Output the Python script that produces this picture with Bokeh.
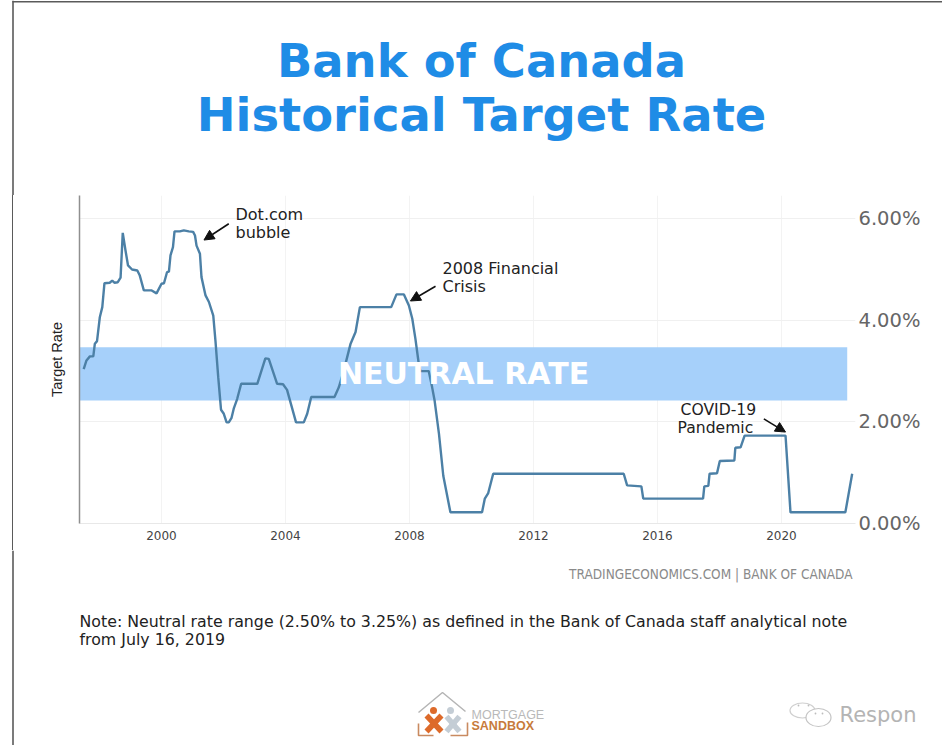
from bokeh.plotting import figure
from bokeh.embed import file_html
from bokeh.resources import INLINE
from bokeh.layouts import column, row
from bokeh.core.properties import value
from bokeh.models import Label, Arrow, NormalHead, FixedTicker, Range1d, LinearAxis, Div

years = [1997.49,1997.58,1997.69,1997.80,1997.85,1997.92,1998.01,1998.09,1998.16,1998.33,1998.41,1998.48,1998.59,1998.68,1998.75,1998.84,1998.92,1999.05,1999.22,1999.30,1999.43,1999.67,1999.84,2000.00,2000.08,2000.18,2000.24,2000.29,2000.37,2000.42,2000.59,2000.72,2000.88,2001.02,2001.08,2001.13,2001.24,2001.29,2001.42,2001.53,2001.67,2001.74,2001.83,2001.92,2002.01,2002.10,2002.17,2002.26,2002.33,2002.44,2002.57,2003.09,2003.35,2003.46,2003.73,2003.92,2004.05,2004.34,2004.59,2004.70,2004.83,2005.58,2005.72,2005.88,2006.10,2006.26,2006.40,2007.41,2007.58,2007.82,2007.98,2008.09,2008.19,2008.30,2008.35,2008.62,2008.73,2008.81,2008.95,2009.09,2009.32,2010.34,2010.43,2010.54,2010.70,2014.91,2015.02,2015.48,2015.54,2017.47,2017.51,2017.64,2017.68,2017.92,2018.01,2018.48,2018.51,2018.68,2018.81,2020.13,2020.29,2022.06,2022.28]
rates = [3.04,3.21,3.29,3.29,3.54,3.59,4.06,4.26,4.73,4.74,4.78,4.74,4.75,4.84,5.72,5.37,5.08,5.00,4.98,4.88,4.59,4.59,4.53,4.72,4.73,4.95,4.96,5.28,5.44,5.75,5.75,5.77,5.75,5.74,5.67,5.47,5.31,4.85,4.49,4.36,4.09,3.60,2.88,2.24,2.16,1.99,1.99,2.08,2.26,2.45,2.75,2.75,3.25,3.24,2.75,2.74,2.63,1.99,1.99,2.16,2.49,2.49,2.68,3.01,3.54,3.77,4.26,4.26,4.51,4.51,4.29,4.03,3.64,3.14,3.00,3.00,2.68,2.42,1.77,0.94,0.22,0.22,0.49,0.60,0.98,0.98,0.75,0.73,0.49,0.49,0.73,0.74,0.98,0.99,1.23,1.24,1.49,1.50,1.73,1.73,0.22,0.22,0.98]
year_ticks = [2000,2004,2008,2012,2016,2020]
rate_ticks = [0,2,4,6]
rate_labels = {0:"0.00%",2:"2.00%",4:"4.00%",6:"6.00%"}
band_low, band_high = 2.42, 3.47
band_end = 2022.12

FRAME = "#5a5a5a"

def X(px): return 2000 + (px - 161) / 31
def Y(py): return (523 - py) / 50.8

# ---- pixel-scaled strips around the chart
def strip(w, x0, y0, y1):
    f = figure(width=w, height=y1 - y0, output_backend="svg", toolbar_location=None,
               x_range=Range1d(x0, x0 + w), y_range=Range1d(y1, y0),
               x_axis_type=None, y_axis_type=None,
               min_border=0, min_border_left=0, min_border_right=0, min_border_top=0, min_border_bottom=0)
    f.outline_line_color = None
    f.grid.visible = False
    f.segment([12.5], [y0], [12.5], [y1], line_color=FRAME, line_width=1.6)
    return f

def put(f, txt, x, y, size, color="#222222", font="DejaVu Sans", style="normal", align="left"):
    f.text([x], [y], text=[txt], text_font=value(font), text_font_size=f"{size}px", text_color=color,
           text_font_style=style, text_align=align, text_baseline="middle")

top = strip(942, 0, 0, 195)
top.segment([12], [1.2], [942], [1.2], line_color=FRAME, line_width=1.6)
put(top, "Bank of Canada", 481, 60, 46.4, "#1F8CE6", "DejaVu Sans", "bold", "center")
put(top, "Historical Target Rate", 481, 114, 46.4, "#1F8CE6", "DejaVu Sans", "bold", "center")

left = Div(text="", width=30, height=355, margin=0,
           styles={"background": f"linear-gradient(to right, transparent 11.7px, {FRAME} 11.7px, {FRAME} 13.3px, transparent 13.3px)"})

# ---- chart
p = figure(width=912, height=355, output_backend="svg", toolbar_location=None,
           x_range=Range1d(X(79), X(855)), y_range=Range1d(Y(523), Y(195)),
           min_border_left=49, min_border_right=87, min_border_top=0, min_border_bottom=27)
p.outline_line_color = None

xa = p.xaxis[0]
xa.ticker = FixedTicker(ticks=year_ticks)
xa.axis_line_color = "#e8e8e8"
xa.major_tick_line_color = None
xa.minor_tick_line_color = None
xa.major_tick_out = 0
xa.major_label_text_font = "DejaVu Sans"
xa.major_label_text_font_size = "12px"
xa.major_label_text_color = "#444444"
xa.major_label_standoff = 7

ya = p.yaxis[0]
ya.ticker = FixedTicker(ticks=[])
ya.axis_line_color = "#8f8f8f"
ya.axis_line_width = 1.5
ya.major_tick_line_color = None
ya.minor_tick_line_color = None
ya.major_tick_out = 0
ya.axis_label = "Target Rate"
ya.axis_label_text_font = "Liberation Sans"
ya.axis_label_text_font_size = "14.5px"
ya.axis_label_text_font_style = "normal"
ya.axis_label_text_color = "#222222"
ya.axis_label_standoff = 15

ra = LinearAxis(ticker=FixedTicker(ticks=rate_ticks), major_label_overrides=rate_labels)
ra.axis_line_color = None
ra.major_tick_line_color = None
ra.minor_tick_line_color = None
ra.major_tick_out = 0
ra.major_label_text_font = "DejaVu Sans"
ra.major_label_text_font_size = "19.5px"
ra.major_label_text_color = "#666666"
ra.major_label_standoff = 3
p.add_layout(ra, "right")

p.xgrid.ticker = FixedTicker(ticks=year_ticks)
p.ygrid.ticker = FixedTicker(ticks=rate_ticks)
p.xgrid.grid_line_color = "#f3f3f3"
p.ygrid.grid_line_color = "#f0f0f0"

p.quad(left=[X(79)], right=[band_end], bottom=[band_low], top=[band_high], fill_color="#A6D0FA", line_color=None)
p.line(years, rates, line_color="#4C80A6", line_width=2.4)

def T(txt, px, py, size, color="#222222", font="DejaVu Sans", style="normal", align="left"):
    p.add_layout(Label(x=X(px), y=Y(py), text=txt, text_font=font, text_font_size=f"{size}px", text_color=color,
                       text_font_style=style, text_align=align, text_baseline="middle"))

T("NEUTRAL RATE", 463, 373, 30, "#FFFFFF", "DejaVu Sans", "bold", "center")
T("Dot.com", 235, 214, 16)
T("bubble", 235, 232, 16)
T("2008 Financial", 442, 268, 16)
T("Crisis", 442, 286, 16)
T("COVID-19", 680, 409, 15.6)
T("Pandemic", 677, 427, 15.6)

for (x0, y0, x1, y1) in [(2002.17,5.90,2001.37,5.58),(2008.84,4.67,2008.03,4.38),(2019.43,2.06,2020.13,1.80)]:
    p.add_layout(Arrow(x_start=x0, y_start=y0, x_end=x1, y_end=y1, line_color="#111111", line_width=1.6,
                       end=NormalHead(size=10, fill_color="#111111", line_color="#111111")))

# ---- bottom strip
bot = strip(942, 0, 550, 745)
put(bot, "TRADINGECONOMICS.COM | BANK OF CANADA", 852, 573, 13.5, "#8a8a8a", "DejaVu Sans Condensed", "normal", "right")
put(bot, "Note: Neutral rate range (2.50% to 3.25%) as defined in the Bank of Canada staff analytical note", 79, 620.5, 15.8)
put(bot, "from July 16, 2019", 79, 638.5, 15.8)

# logo
bot.line([418, 442, 465], [712, 692, 711], line_color="#b5b5b5", line_width=1.5)
bot.line([418, 418, 433], [723, 735, 735], line_color="#c98a60", line_width=1.6)
bot.line([467, 467, 450], [722, 735, 735], line_color="#c98a60", line_width=1.6)
bot.segment([446, 459], [716, 716], [459, 446], [731, 731], line_color="#c4cdd5", line_width=5.5)
bot.segment([426, 441], [715, 715], [441, 426], [731, 731], line_color="#dd6a2a", line_width=5.5)
bot.circle([433], [710], radius=3.5, fill_color="#dd6a2a", line_color=None)
bot.circle([450], [710], radius=3.5, fill_color="#c4cdd5", line_color=None)
put(bot, "MORTGAGE", 471, 714.5, 12.5, "#b9b9b9", "Liberation Sans")
put(bot, "SANDBOX", 471, 725.5, 12.5, "#c77b3c", "Liberation Sans", "bold")

# watermark
bot.ellipse([802], [710], width=[25], height=[15], fill_color="#ffffff", line_color="#cfcfcf", line_width=1.2)
bot.ellipse([818], [717], width=[25], height=[18], fill_color="#ffffff", line_color="#c4c4c4", line_width=1.2)
bot.circle([798, 808, 815, 822], [705, 705, 713, 713], radius=0.9, fill_color="#bdbdbd", line_color=None)
put(bot, "Respon", 839, 714, 21, "#b4b4b4", "DejaVu Sans")

layout = column(top, row(left, p, spacing=0), bot, spacing=0)
open("out.html", "w").write(file_html(layout, INLINE))
